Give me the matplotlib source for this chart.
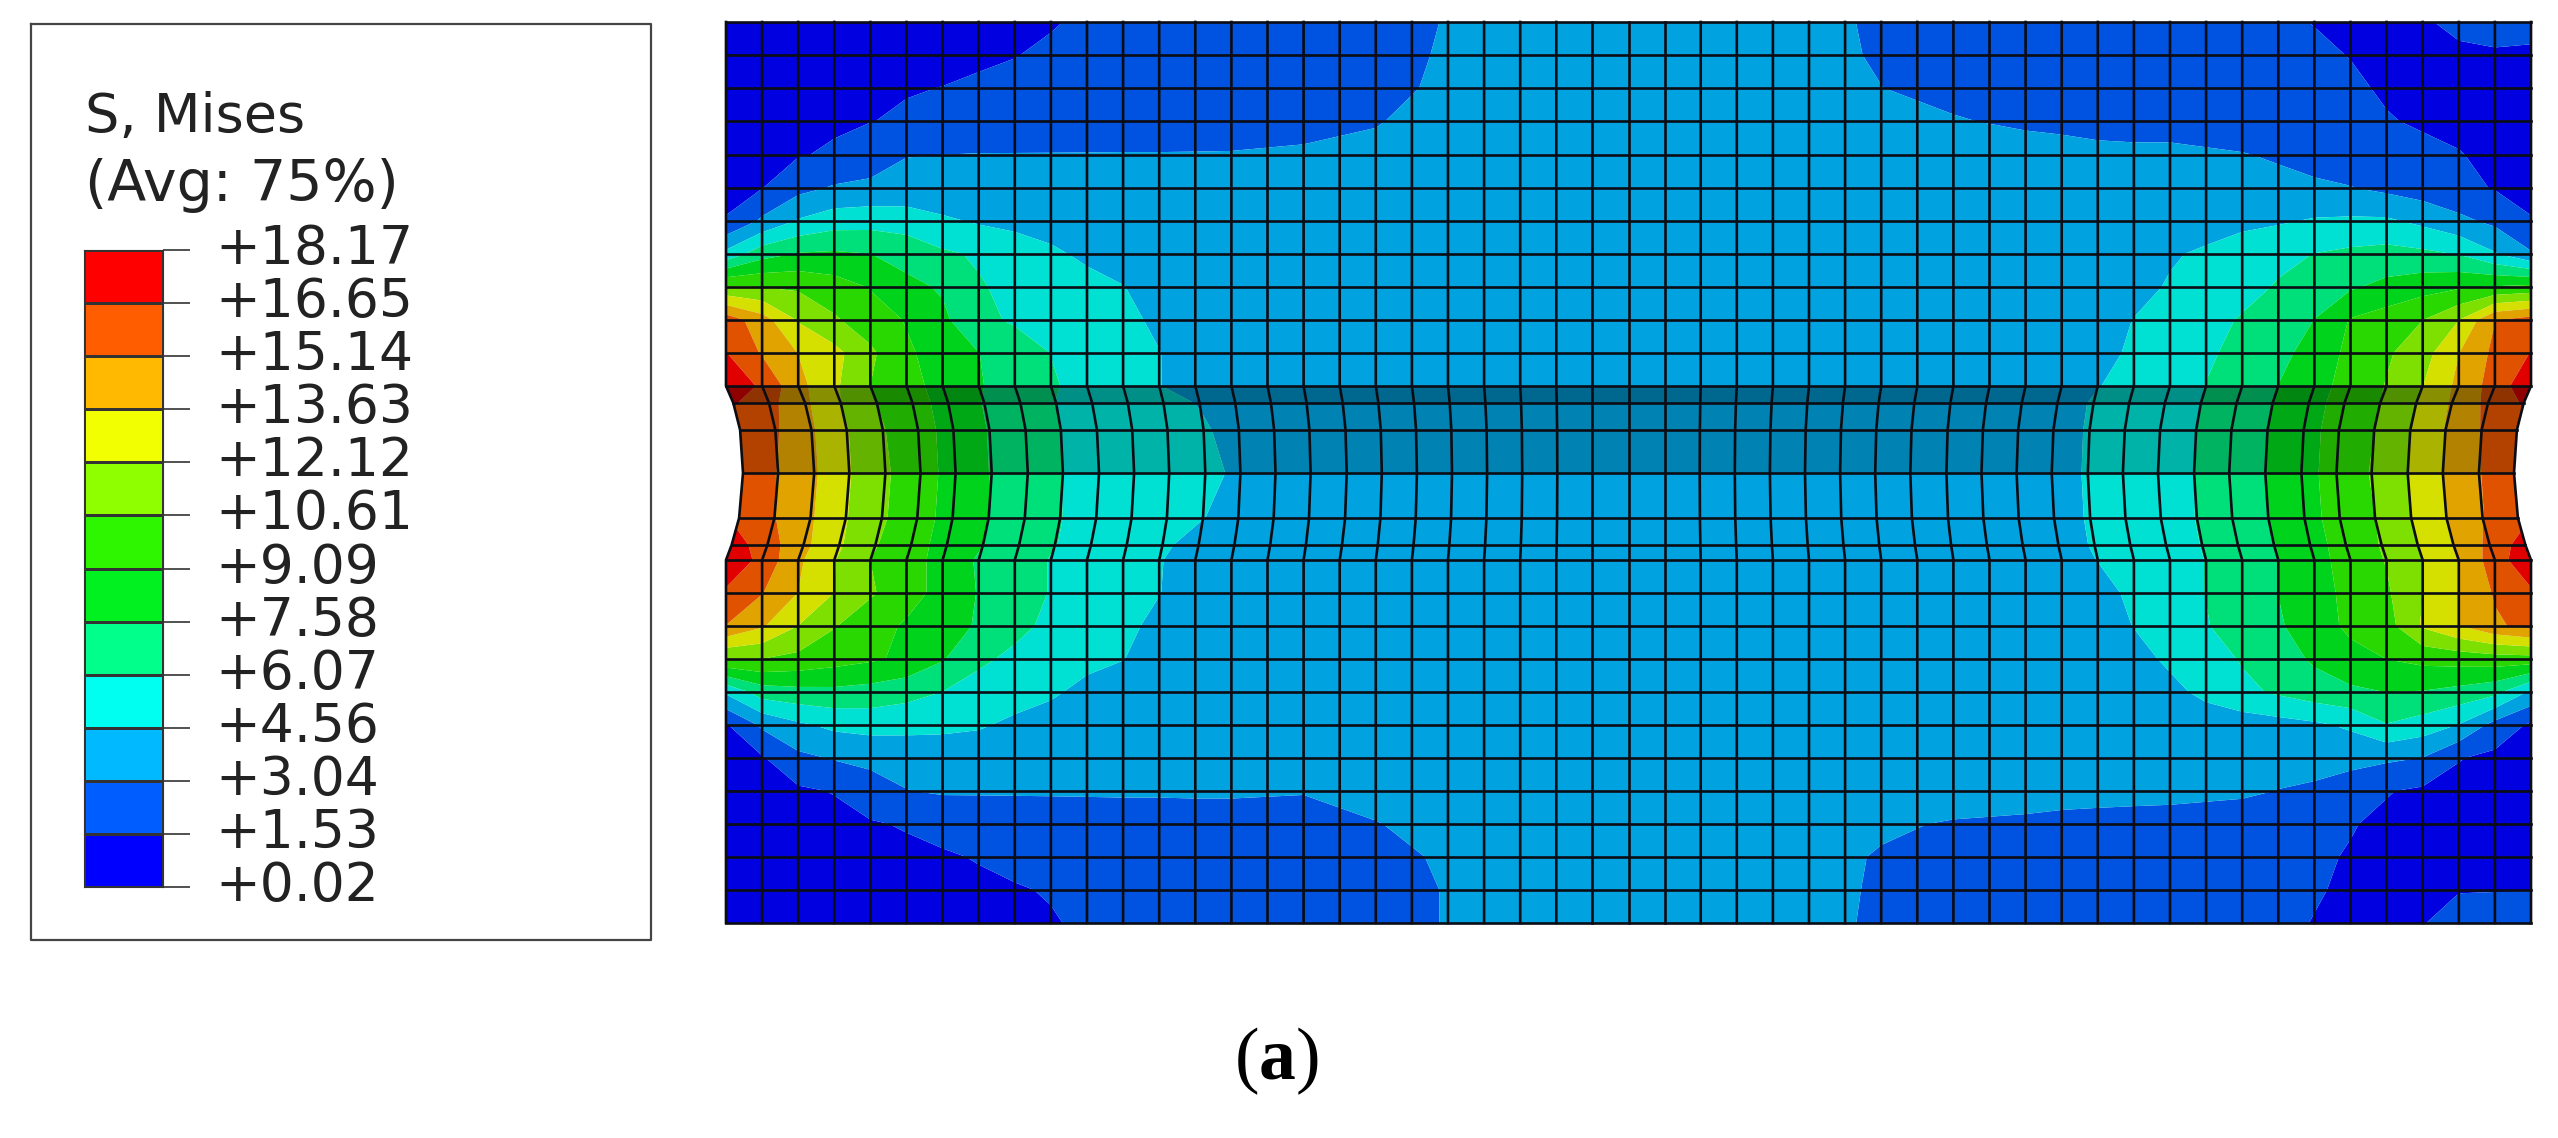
import numpy as np
import matplotlib
matplotlib.use('Agg')
import matplotlib.pyplot as plt
from matplotlib.colors import ListedColormap, BoundaryNorm

plt.rcParams['font.family'] = ['DejaVu Sans']
plt.rcParams['mathtext.fontset'] = 'custom'
plt.rcParams['mathtext.bf'] = 'Liberation Serif:bold'
plt.rcParams['mathtext.rm'] = 'Liberation Serif'

# legend
levels = [0.02, 1.53, 3.04, 4.56, 6.07, 7.58, 9.09, 10.61, 12.12, 13.63, 15.14, 16.65, 18.17]
band_colors = ['#0000ff', '#005dff', '#00b9ff', '#00fff0', '#00ff8b', '#00f020',
               '#2ef500', '#8fff00', '#f2ff00', '#ffb900', '#ff5d00', '#ff0000']
legend_title = 'S, Mises\n(Avg: 75%)'

# mesh, in picture pixels
n_cols = 50
mesh_left, mesh_right = 726, 2531
row_y = [22, 55, 88, 121, 155, 188, 221, 254, 287, 320, 353, 386, 403, 430, 473, 518, 545, 560,
         593, 626, 659, 692, 725, 758, 791, 824, 857, 890, 923]
# how far each column moves in at the waist, by distance from the near edge
col_bulge = [17, 16, 16, 15, 15, 14, 13, 13, 13, 12, 12, 11, 10, 10, 9, 8, 7, 7, 6, 5, 4, 3, 2, 1, 0, 0]
# share of that movement in each row of the waist (rows 11 to 17)
waist_rows = [11, 12, 13, 14, 15, 16, 17]
waist_share = [0, 0.43, 0.83, 1, 0.77, 0.33, 0]

# stress read at these column distances from the edge, one row per mesh row
field_cols = [0, 1, 2, 3, 4, 5, 6, 7, 8, 9, 10, 11, 12, 13, 14, 16, 18, 20, 22, 25]
left_field = [
    [.4, .5, .6, .7, .8, .9, 1.0, 1.2, 1.3, 1.45, 1.7, 1.8, 1.9, 2.0, 2.1, 2.3, 2.6, 3.1, 3.4, 3.6],
    [.5, .6, .7, .9, 1.0, 1.1, 1.2, 1.35, 1.5, 1.7, 1.8, 1.9, 2.0, 2.1, 2.2, 2.4, 2.7, 3.15, 3.4, 3.6],
    [.6, .8, 1.0, 1.2, 1.3, 1.45, 1.55, 1.7, 1.8, 1.9, 2.0, 2.1, 2.2, 2.3, 2.4, 2.5, 2.8, 3.2, 3.5, 3.6],
    [.7, 1.0, 1.2, 1.35, 1.5, 1.7, 1.9, 2.0, 2.1, 2.2, 2.3, 2.4, 2.4, 2.5, 2.6, 2.8, 3.0, 3.3, 3.5, 3.7],
    [.8, 1.1, 1.45, 1.7, 2.2, 3.0, 3.05, 3.1, 3.1, 3.1, 3.1, 3.1, 3.1, 3.1, 3.1, 3.15, 3.2, 3.4, 3.5, 3.7],
    [1.2, 1.5, 2.6, 3.2, 3.4, 3.5, 3.5, 3.5, 3.5, 3.6, 3.6, 3.6, 3.6, 3.6, 3.6, 3.7, 3.7, 3.7, 3.7, 3.8],
    [1.6, 3.3, 4.7, 5.4, 5.5, 5.4, 4.8, 4.4, 4.2, 4.0, 3.8, 3.8, 3.8, 3.8, 3.8, 3.8, 3.8, 3.8, 3.8, 3.8],
    [5.0, 7.0, 7.7, 7.8, 7.6, 7.0, 6.3, 5.9, 5.3, 4.8, 4.3, 4.0, 3.9, 3.8, 3.8, 3.8, 3.8, 3.8, 3.8, 3.8],
    [10.8, 10.6, 10.4, 9.8, 9.0, 8.0, 7.4, 6.2, 5.7, 5.4, 5.0, 4.6, 4.0, 3.8, 3.8, 3.8, 3.8, 3.8, 3.8, 3.8],
    [16.0, 14.3, 12.0, 10.8, 9.8, 9.0, 7.9, 6.4, 5.9, 5.7, 5.4, 4.9, 4.3, 3.8, 3.8, 3.8, 3.8, 3.8, 3.8, 3.8],
    [16.7, 15.0, 13.6, 12.6, 10.9, 9.3, 8.5, 7.6, 6.8, 6.05, 5.6, 5.2, 4.6, 3.9, 3.8, 3.8, 3.8, 3.8, 3.8, 3.8],
    [17.8, 16.4, 14.1, 12.4, 10.6, 9.6, 8.6, 7.7, 6.9, 6.2, 5.7, 5.2, 4.6, 4.0, 3.8, 3.8, 3.8, 3.8, 3.8, 3.8],
    [16.8, 15.6, 13.9, 12.1, 10.6, 9.6, 8.6, 7.5, 6.8, 6.05, 5.7, 5.3, 4.9, 4.5, 3.9, 3.8, 3.8, 3.8, 3.8, 3.8],
    [16.0, 15.3, 13.8, 12.2, 10.7, 9.6, 8.6, 7.5, 6.8, 6.05, 5.7, 5.4, 5.1, 4.7, 4.1, 3.8, 3.8, 3.8, 3.8, 3.8],
    [15.7, 15.1, 13.8, 12.2, 10.8, 9.6, 8.6, 7.5, 6.8, 6.05, 5.7, 5.4, 5.2, 4.9, 4.3, 3.9, 3.8, 3.8, 3.8, 3.8],
    [16.2, 15.2, 13.8, 12.2, 10.8, 9.6, 8.6, 7.6, 6.8, 6.1, 5.7, 5.3, 5.0, 4.6, 4.0, 3.8, 3.8, 3.8, 3.8, 3.8],
    [17.4, 15.8, 14.0, 12.3, 10.7, 9.6, 8.6, 7.6, 6.8, 6.1, 5.7, 5.3, 4.8, 4.0, 3.8, 3.8, 3.8, 3.8, 3.8, 3.8],
    [17.9, 16.2, 13.9, 12.2, 10.6, 9.7, 8.6, 7.4, 6.7, 6.0, 5.6, 5.2, 4.65, 3.9, 3.8, 3.8, 3.8, 3.8, 3.8, 3.8],
    [16.4, 15.2, 13.6, 12.1, 10.8, 9.7, 8.6, 7.5, 6.7, 6.0, 5.5, 5.1, 4.6, 3.9, 3.8, 3.8, 3.8, 3.8, 3.8, 3.8],
    [15.1, 13.8, 12.1, 10.7, 9.7, 8.9, 8.3, 7.4, 6.4, 5.8, 5.3, 4.9, 4.2, 3.8, 3.8, 3.8, 3.8, 3.8, 3.8, 3.8],
    [10.6, 10.6, 10.2, 9.7, 9.3, 8.8, 7.7, 6.3, 5.8, 5.3, 4.9, 4.6, 3.9, 3.8, 3.8, 3.8, 3.8, 3.8, 3.8, 3.8],
    [4.8, 6.8, 7.1, 7.2, 7.0, 6.6, 6.05, 5.6, 5.1, 4.75, 4.2, 3.8, 3.8, 3.8, 3.8, 3.8, 3.8, 3.8, 3.8, 3.8],
    [1.4, 3.3, 4.3, 4.9, 5.1, 5.0, 4.9, 4.7, 4.3, 4.0, 3.8, 3.8, 3.8, 3.8, 3.8, 3.8, 3.8, 3.8, 3.8, 3.8],
    [1.0, 1.4, 2.7, 3.15, 3.4, 3.6, 3.7, 3.8, 3.8, 3.8, 3.8, 3.8, 3.8, 3.8, 3.8, 3.8, 3.8, 3.8, 3.8, 3.8],
    [.8, 1.0, 1.3, 1.6, 2.4, 3.0, 3.2, 3.2, 3.2, 3.2, 3.2, 3.2, 3.2, 3.2, 3.2, 3.1, 3.4, 3.6, 3.7, 3.8],
    [.6, .7, .9, 1.1, 1.4, 1.65, 1.9, 2.0, 2.1, 2.2, 2.3, 2.4, 2.4, 2.5, 2.5, 2.6, 3.0, 3.4, 3.6, 3.8],
    [.5, .6, .7, .8, 1.0, 1.2, 1.4, 1.6, 1.8, 2.0, 2.1, 2.2, 2.3, 2.3, 2.4, 2.5, 2.7, 3.2, 3.5, 3.8],
    [.4, .5, .6, .7, .8, 1.0, 1.1, 1.3, 1.45, 1.6, 1.8, 2.0, 2.1, 2.2, 2.3, 2.4, 2.6, 3.1, 3.5, 3.7],
    [.4, .5, .6, .7, .8, .9, 1.0, 1.2, 1.3, 1.45, 1.7, 1.9, 2.0, 2.1, 2.2, 2.3, 2.6, 3.1, 3.4, 3.7],
]
right_field = [
    [1.8, 1.8, 1.7, 1.45, 1.2, 1.3, 1.5, 1.7, 1.8, 1.9, 2.0, 2.1, 2.2, 2.3, 2.4, 2.6, 2.9, 3.3, 3.5, 3.6],
    [1.4, 1.45, 1.4, 1.2, 1.1, 1.5, 1.7, 1.8, 1.9, 2.0, 2.1, 2.2, 2.3, 2.4, 2.5, 2.7, 2.95, 3.3, 3.5, 3.6],
    [.9, .9, 1.0, 1.1, 1.4, 1.7, 1.9, 2.0, 2.1, 2.2, 2.3, 2.4, 2.5, 2.6, 2.7, 2.8, 3.05, 3.4, 3.6, 3.6],
    [.9, 1.0, 1.2, 1.4, 1.6, 1.8, 2.0, 2.2, 2.4, 2.5, 2.6, 2.6, 2.7, 2.8, 2.9, 3.1, 3.4, 3.5, 3.6, 3.7],
    [.9, 1.2, 1.6, 1.8, 2.0, 2.2, 2.5, 2.9, 3.1, 3.2, 3.3, 3.3, 3.3, 3.4, 3.4, 3.5, 3.5, 3.6, 3.6, 3.7],
    [1.2, 1.45, 1.9, 2.3, 2.7, 3.1, 3.3, 3.4, 3.5, 3.5, 3.5, 3.6, 3.6, 3.6, 3.7, 3.7, 3.7, 3.7, 3.7, 3.8],
    [1.6, 2.7, 3.4, 4.2, 4.8, 4.8, 4.7, 4.4, 4.2, 3.9, 3.8, 3.8, 3.8, 3.8, 3.8, 3.8, 3.8, 3.8, 3.8, 3.8],
    [3.2, 4.7, 6.0, 6.4, 6.6, 6.4, 6.1, 5.7, 5.3, 4.8, 4.4, 4.0, 3.9, 3.8, 3.8, 3.8, 3.8, 3.8, 3.8, 3.8],
    [9.5, 9.2, 8.9, 8.5, 8.0, 7.4, 6.9, 6.2, 5.6, 5.1, 4.7, 4.1, 3.9, 3.8, 3.8, 3.8, 3.8, 3.8, 3.8, 3.8],
    [15.8, 15.1, 12.1, 10.6, 9.8, 9.2, 7.6, 6.7, 6.2, 5.6, 5.1, 4.6, 3.9, 3.8, 3.8, 3.8, 3.8, 3.8, 3.8, 3.8],
    [16.7, 15.5, 13.6, 11.5, 10.4, 9.5, 8.1, 7.2, 6.4, 5.9, 5.4, 4.8, 4.1, 3.8, 3.8, 3.8, 3.8, 3.8, 3.8, 3.8],
    [17.8, 15.8, 14.0, 12.1, 10.7, 9.6, 8.6, 7.6, 6.8, 6.1, 5.6, 5.1, 4.5, 3.9, 3.8, 3.8, 3.8, 3.8, 3.8, 3.8],
    [16.8, 15.5, 13.8, 12.1, 10.6, 9.6, 8.6, 7.6, 6.8, 6.05, 5.6, 5.1, 4.7, 3.9, 3.8, 3.8, 3.8, 3.8, 3.8, 3.8],
    [16.0, 15.2, 13.7, 12.1, 10.6, 9.6, 8.6, 7.6, 6.8, 6.05, 5.6, 5.1, 4.7, 3.9, 3.8, 3.8, 3.8, 3.8, 3.8, 3.8],
    [15.7, 15.1, 13.6, 12.1, 10.7, 9.6, 8.6, 7.6, 6.8, 6.05, 5.6, 5.1, 4.7, 3.9, 3.8, 3.8, 3.8, 3.8, 3.8, 3.8],
    [16.0, 15.1, 13.6, 12.1, 10.6, 9.6, 8.6, 7.6, 6.8, 6.1, 5.6, 5.1, 4.7, 3.9, 3.8, 3.8, 3.8, 3.8, 3.8, 3.8],
    [17.4, 15.5, 13.7, 12.1, 10.7, 9.6, 8.6, 7.6, 6.8, 6.1, 5.6, 5.1, 4.7, 3.9, 3.8, 3.8, 3.8, 3.8, 3.8, 3.8],
    [17.9, 15.9, 13.7, 12.1, 10.7, 9.7, 8.6, 7.6, 6.8, 6.1, 5.6, 5.1, 4.6, 3.9, 3.8, 3.8, 3.8, 3.8, 3.8, 3.8],
    [16.4, 15.3, 13.6, 12.1, 10.4, 9.5, 8.5, 7.6, 6.7, 6.1, 5.5, 4.9, 4.0, 3.8, 3.8, 3.8, 3.8, 3.8, 3.8, 3.8],
    [15.6, 14.9, 13.6, 12.3, 10.0, 9.4, 8.4, 7.4, 6.6, 6.0, 5.3, 4.6, 3.9, 3.8, 3.8, 3.8, 3.8, 3.8, 3.8, 3.8],
    [10.0, 9.9, 9.7, 9.5, 9.1, 8.6, 7.8, 6.9, 6.2, 5.4, 4.8, 4.1, 3.8, 3.8, 3.8, 3.8, 3.8, 3.8, 3.8, 3.8],
    [4.3, 6.5, 7.1, 7.5, 7.6, 7.3, 6.9, 6.3, 5.7, 4.9, 4.2, 3.8, 3.8, 3.8, 3.8, 3.8, 3.8, 3.8, 3.8, 3.8],
    [1.3, 2.5, 4.5, 5.4, 6.0, 4.8, 4.3, 4.0, 3.8, 3.8, 3.8, 3.8, 3.8, 3.8, 3.8, 3.8, 3.8, 3.8, 3.8, 3.8],
    [1.0, 1.2, 1.6, 3.0, 3.3, 3.5, 3.6, 3.7, 3.8, 3.8, 3.8, 3.8, 3.8, 3.8, 3.8, 3.8, 3.8, 3.8, 3.8, 3.8],
    [.8, .9, 1.1, 1.3, 1.6, 2.3, 2.8, 3.0, 3.3, 3.4, 3.5, 3.5, 3.5, 3.5, 3.6, 3.6, 3.7, 3.7, 3.7, 3.8],
    [.7, .8, .9, 1.1, 1.3, 1.6, 1.8, 2.0, 2.2, 2.3, 2.4, 2.5, 2.6, 2.7, 2.8, 2.95, 3.2, 3.5, 3.7, 3.8],
    [.6, .7, .8, 1.0, 1.3, 1.45, 1.7, 1.9, 2.0, 2.1, 2.2, 2.3, 2.4, 2.5, 2.6, 2.7, 2.95, 3.4, 3.7, 3.8],
    [1.5, 1.5, 1.5, 1.3, 1.2, 1.4, 1.6, 1.8, 1.9, 2.0, 2.1, 2.2, 2.3, 2.4, 2.5, 2.6, 2.9, 3.4, 3.6, 3.8],
    [2.1, 2.0, 1.8, 1.5, 1.2, 1.3, 1.5, 1.7, 1.9, 2.0, 2.1, 2.2, 2.3, 2.4, 2.5, 2.6, 2.85, 3.4, 3.6, 3.7],
]


def node_x(col, row):
    # columns are evenly spaced, then pulled in towards the middle at the waist
    dist = min(col, n_cols - col)
    share = waist_share[waist_rows.index(row)] if row in waist_rows else 0
    move = np.interp(dist, np.arange(len(col_bulge)), col_bulge) * share
    base = mesh_left + (mesh_right - mesh_left) * col / n_cols
    return base + move if col <= n_cols / 2 else base - move


fig = plt.figure(figsize=(25.58, 11.38), dpi=100)
ax = fig.add_axes([0, 0, 1, 1])
ax.set_xlim(0, 2558)
ax.set_ylim(1138, 0)
ax.axis('off')

# contour bands on the deformed mesh
all_cols = field_cols + [n_cols - c for c in field_cols[-2::-1]]
left_arr = np.array(left_field)
right_arr = np.array(right_field)
field = np.hstack([left_arr, right_arr[:, -2::-1]])
X = np.array([[node_x(c, r) for c in all_cols] for r in range(len(row_y))])
Y = np.array([[row_y[r] for c in all_cols] for r in range(len(row_y))])
mesh_colors = [tuple(0.88 * v for v in matplotlib.colors.to_rgb(c)) for c in band_colors]
cmap = ListedColormap(mesh_colors)
norm = BoundaryNorm(levels, cmap.N)
ax.contourf(X, Y, field, levels=levels, cmap=cmap, norm=norm, antialiased=True, zorder=1)

# the darker fold across the waist
for r0, r1, shade in [(11, 12, 0.36), (12, 14, 0.2)]:
    rows = range(r0, r1 + 1)
    xs = [node_x(0, r) for r in rows] + [node_x(n_cols, r) for r in rows][::-1]
    ys = [row_y[r] for r in rows] + [row_y[r] for r in rows][::-1]
    ax.fill(xs, ys, color='black', alpha=shade, lw=0, zorder=2)

# mesh lines
for r, y in enumerate(row_y):
    ax.plot([node_x(0, r), node_x(n_cols, r)], [y, y], color='#0c0c14', lw=1.9, zorder=3)
for c in range(n_cols + 1):
    ax.plot([node_x(c, r) for r in range(len(row_y))], row_y, color='#0c0c14', lw=1.9, zorder=3)

# legend box
ax.plot([31, 651, 651, 31, 31], [24, 24, 940, 940, 24], color='#444444', lw=1.6, zorder=3)
ax.text(85, 117, legend_title.split('\n')[0], fontsize=39, color='#222222', va='center', ha='left')
ax.text(85, 185, legend_title.split('\n')[1], fontsize=41, color='#222222', va='center', ha='left')

cax = fig.add_axes([84 / 2558, 1 - 887 / 1138, 79 / 2558, 637 / 1138])
band_ids = np.arange(len(band_colors)).reshape(-1, 1)
cax.pcolormesh([0, 1], np.arange(len(levels)), band_ids, cmap=ListedColormap(band_colors),
               edgecolors='#333333', linewidth=1.0)
cax.set_xticks([])
cax.yaxis.tick_right()
cax.set_yticks(np.arange(len(levels)))
cax.set_yticklabels([])
cax.tick_params(axis='y', length=19.5, width=1.2, color='#333333')
for s in cax.spines.values():
    s.set_color('#333333')
for i, lev in enumerate(levels):
    cax.annotate('+%.2f' % lev, xy=(1, i), xycoords=('axes fraction', 'data'), xytext=(52, 1),
                 textcoords='offset pixels', fontsize=38.5, color='#222222', va='center', ha='left',
                 annotation_clip=False)

ax.text(1276, 1061, r'($\mathbf{a}$)', fontsize=53, family='Liberation Serif', ha='center', va='center',
        color='black')

fig.savefig('out.png', dpi=100)
